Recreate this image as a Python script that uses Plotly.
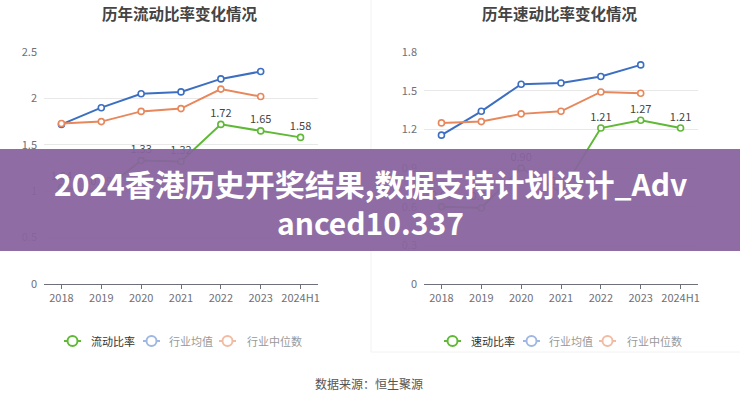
import plotly.graph_objects as go

years = ["2018", "2019", "2020", "2021", "2022", "2023", "2024H1"]

# Left chart: current ratio
current_ratio = [1.04, 0.99, 1.33, 1.32, 1.72, 1.65, 1.58]
current_ind_mean = [1.72, 1.90, 2.05, 2.07, 2.21, 2.29, None]
current_ind_median = [1.73, 1.75, 1.86, 1.89, 2.10, 2.02, None]

# Right chart: quick ratio
quick_ratio = [0.60, 0.59, 0.90, 0.71, 1.21, 1.27, 1.21]
quick_ind_mean = [1.155, 1.34, 1.55, 1.56, 1.61, 1.70, None]
quick_ind_median = [1.25, 1.26, 1.32, 1.34, 1.49, 1.48, None]

left_title = "历年流动比率变化情况"
right_title = "历年速动比率变化情况"
left_legend = ["流动比率", "行业均值", "行业中位数"]
right_legend = ["速动比率", "行业均值", "行业中位数"]
source_text = "数据来源：恒生聚源"
banner_lines = ["2024香港历史开奖结果,数据支持计划设计_Adv", "anced10.337"]

GREEN = "#5fb936"
BLUE = "#3c6fc2"
ORANGE = "#e8875b"
FONT = "Noto Sans CJK SC"
W, H = 740, 400

fig = go.Figure()


def add_series(xa, ya, vals, color, labels=False):
    fig.add_trace(go.Scatter(
        x=years, y=vals, xaxis=xa, yaxis=ya,
        mode="lines+markers+text" if labels else "lines+markers",
        line=dict(color=color, width=2),
        marker=dict(symbol="circle", size=6, color="white",
                    line=dict(color=color, width=1.6)),
        text=[f"{v:.2f}" if v is not None else "" for v in vals] if labels else None,
        textposition="top center",
        textfont=dict(size=11, color="#444", family=FONT),
        showlegend=False, hoverinfo="skip", cliponaxis=False,
    ))


add_series("x", "y", current_ind_mean, BLUE)
add_series("x", "y", current_ind_median, ORANGE)
add_series("x", "y", current_ratio, GREEN, labels=True)
add_series("x2", "y2", quick_ind_mean, BLUE)
add_series("x2", "y2", quick_ind_median, ORANGE)
add_series("x2", "y2", quick_ratio, GREEN, labels=True)

ydom = [(H - 284) / H, (H - 52) / H]
xaxis_common = dict(
    type="category", showgrid=False, zeroline=False,
    showline=True, linecolor="#6e7079", linewidth=1,
    ticks="outside", ticklen=4, tickcolor="#6e7079",
    tickfont=dict(size=11, color="#6e7079", family=FONT),
    fixedrange=True, automargin=False,
)
yaxis_common = dict(
    showgrid=True, gridcolor="#e8e8e8", gridwidth=1,
    zeroline=False, showline=False, ticks="",
    tickfont=dict(size=11, color="#6e7079", family=FONT),
    fixedrange=True, ticklabelstandoff=6, automargin=False,
)

fig.update_layout(
    width=W, height=H,
    margin=dict(l=0, r=0, t=0, b=0, autoexpand=False),
    paper_bgcolor="white", plot_bgcolor="white",
    font=dict(family=FONT),
    xaxis=dict(domain=[44 / W, 318 / W], anchor="y", **xaxis_common),
    yaxis=dict(domain=ydom, anchor="x", range=[0, 2.5], dtick=0.5, **yaxis_common),
    xaxis2=dict(domain=[424 / W, 698 / W], anchor="y2", **xaxis_common),
    yaxis2=dict(domain=ydom, anchor="x2", range=[0, 1.8], dtick=0.3, **yaxis_common),
)

shapes = []
annotations = []


def px_x(x):
    return x / W


def px_y(y):
    return 1 - y / H


# titles
for cx, t in [(180, left_title), (560, right_title)]:
    annotations.append(dict(
        x=px_x(cx), y=px_y(13), xref="paper", yref="paper", text=f"<b>{t}</b>",
        showarrow=False, xanchor="center", yanchor="middle",
        font=dict(size=15.5, color="#444", family=FONT)))

# right panel faint card border
shapes.append(dict(type="line", xref="paper", yref="paper",
                   x0=px_x(371), x1=px_x(371), y0=px_y(0), y1=px_y(352),
                   line=dict(color="#f2f2f2", width=1)))
shapes.append(dict(type="line", xref="paper", yref="paper",
                   x0=px_x(371), x1=px_x(740), y0=px_y(352), y1=px_y(352),
                   line=dict(color="#f2f2f2", width=1)))


# legends
def legend_item(x_icon, x_text, label, color, text_color):
    ly = px_y(341)
    shapes.append(dict(type="line", xref="paper", yref="paper",
                       x0=px_x(x_icon), x1=px_x(x_icon + 17), y0=ly, y1=ly,
                       line=dict(color=color, width=2)))
    shapes.append(dict(type="circle", xref="paper", yref="paper",
                       x0=px_x(x_icon + 8.5 - 5), x1=px_x(x_icon + 8.5 + 5),
                       y0=px_y(341 + 5), y1=px_y(341 - 5),
                       fillcolor="white", line=dict(color=color, width=2)))
    annotations.append(dict(
        x=px_x(x_text), y=ly, xref="paper", yref="paper", text=label,
        showarrow=False, xanchor="left", yanchor="middle",
        font=dict(size=11, color=text_color, family=FONT)))


LIGHT_BLUE = "#9fb7e2"
LIGHT_ORANGE = "#f2bba3"
for base, labels in [(64, left_legend), (444, right_legend)]:
    legend_item(base, base + 25, labels[0], GREEN, "#333")
    legend_item(base + 79, base + 103, labels[1], LIGHT_BLUE, "#999")
    legend_item(base + 155, base + 181, labels[2], LIGHT_ORANGE, "#999")

# source
annotations.append(dict(
    x=px_x(369), y=px_y(383), xref="paper", yref="paper", text=source_text,
    showarrow=False, xanchor="center", yanchor="middle",
    font=dict(size=12, color="#555", family=FONT)))

# banner overlay
shapes.append(dict(type="rect", xref="paper", yref="paper", layer="above",
                   x0=0, x1=1, y0=px_y(251), y1=px_y(149),
                   fillcolor="rgba(136,100,158,0.94)", line=dict(width=0)))
for cy, t in [(183, banner_lines[0]), (222, banner_lines[1])]:
    annotations.append(dict(
        x=px_x(370), y=px_y(cy), xref="paper", yref="paper", text=f"<b>{t}</b>",
        showarrow=False, xanchor="center", yanchor="middle",
        font=dict(size=30, color="white", family=FONT)))

fig.update_layout(shapes=shapes, annotations=annotations)
fig.write_html("out.html", config={"displayModeBar": False, "staticPlot": True},
               post_script="document.body.style.margin='0';")
